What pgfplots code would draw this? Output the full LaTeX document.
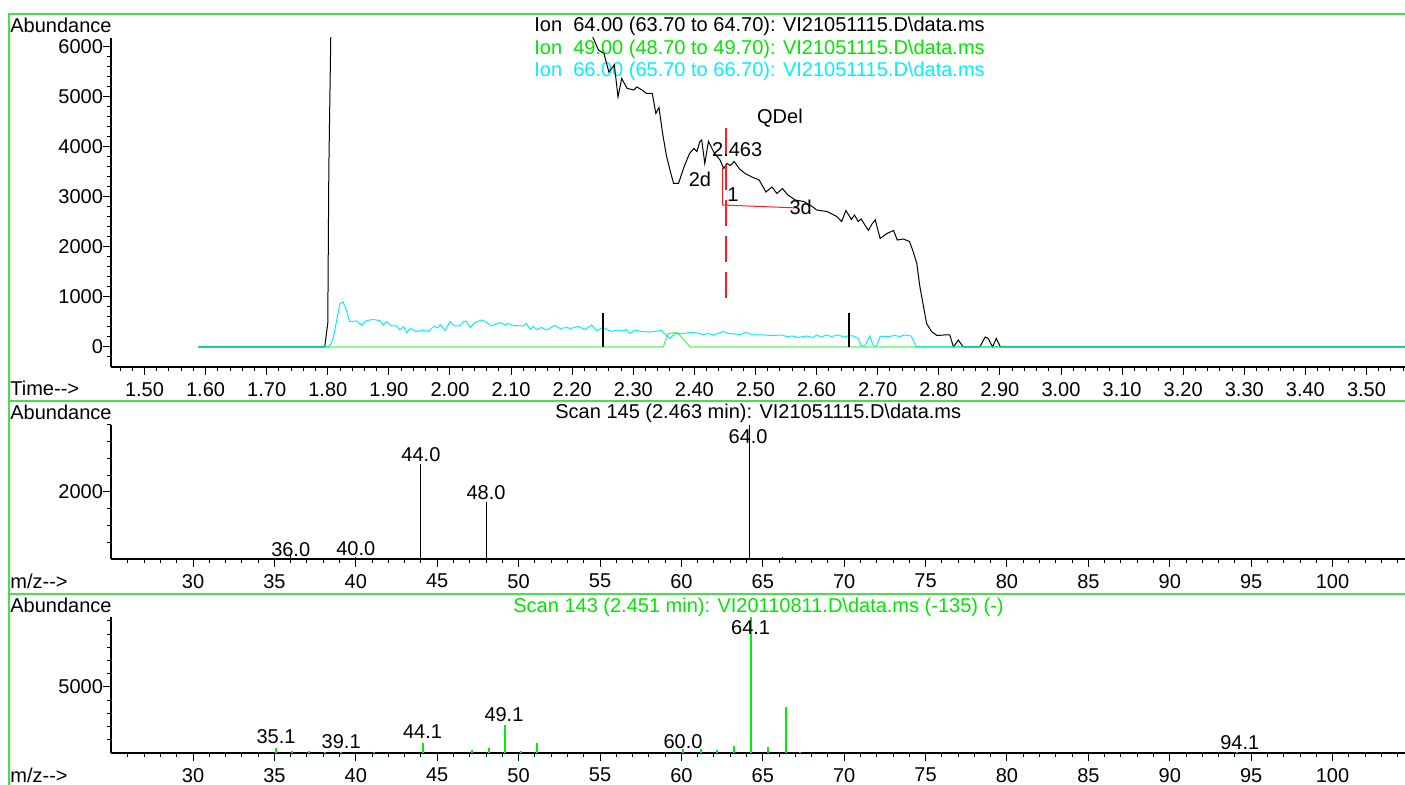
\documentclass[border=0pt]{standalone}
\usepackage{fontspec}
\setmainfont{Liberation Sans}
\usepackage{pgfplots}
\pgfplotsset{compat=1.18}
\definecolor{mygreen}{RGB}{0,230,0}
\definecolor{peakgreen}{RGB}{0,240,0}
\definecolor{mycyan}{RGB}{0,240,255}
\definecolor{framegreen}{RGB}{70,225,70}
\definecolor{qred}{RGB}{255,30,30}
\pgfplotsset{chrom/.style={
  scale only axis, anchor=south west,
  axis x line*=bottom, axis y line*=left,
  tick align=outside, major tick length=4pt, minor tick length=2pt,
  tick style={black, line width=0.5pt},
  axis line style={black, line width=0.6pt},
  /pgf/number format/assume math mode=true,
  /pgf/number format/1000 sep={},
  scaled y ticks=false, scaled x ticks=false,
  every tick label/.append style={font=\fontsize{10}{12}\selectfont},
  yticklabel style={xshift=3.5pt},
  width=647pt,
}}
\begin{document}
\begin{tikzpicture}
\useasboundingbox (0,0) rectangle (702.5pt,-392.5pt);
\draw[framegreen, line width=0.75pt] (4.5pt,-392.5pt) -- (4.5pt,-7pt) -- (702.5pt,-7pt);
\draw[framegreen, line width=0.75pt] (4.5pt,-200.5pt) -- (702.5pt,-200.5pt);
\draw[framegreen, line width=0.75pt] (4.5pt,-297pt) -- (702.5pt,-297pt);
% texts outside axes
\node[anchor=west, inner sep=0pt] at (5pt,-12.5pt) {Abundance};
\node[anchor=west, inner sep=0pt] at (267pt,-13pt) {Ion\ \ 64.00 (63.70 to 64.70): VI21051115.D\textbackslash data.ms};
\node[anchor=west, inner sep=0pt, text=mygreen] at (267pt,-24.5pt) {Ion\ \ 49.00 (48.70 to 49.70): VI21051115.D\textbackslash data.ms};
\node[anchor=west, inner sep=0pt, text=mycyan] at (267pt,-35.5pt) {Ion\ \ 66.00 (65.70 to 66.70): VI21051115.D\textbackslash data.ms};
\node[anchor=west, inner sep=0pt] at (5pt,-194pt) {Time-{}->};
\node[anchor=west, inner sep=0pt] at (5pt,-206pt) {Abundance};
\node[anchor=west, inner sep=0pt] at (277.5pt,-206.5pt) {Scan 145 (2.463 min): VI21051115.D\textbackslash data.ms};
\node[anchor=west, inner sep=0pt] at (5pt,-290.5pt) {m/z-{}->};
\node[anchor=west, inner sep=0pt] at (5pt,-302.5pt) {Abundance};
\node[anchor=west, inner sep=0pt, text=mygreen] at (256.5pt,-303.5pt) {Scan 143 (2.451 min): VI20110811.D\textbackslash data.ms (-135) (-)};
\node[anchor=west, inner sep=0pt] at (5pt,-387.5pt) {m/z-{}->};

% ---------- top: chromatogram ----------
\begin{axis}[chrom, at={(55.5pt,-183.5pt)}, height=164.5pt,
  xmin=1.4452, xmax=3.563, ymin=-400, ymax=6180,
  xtick={1.5,1.6,1.7,1.8,1.9,2.0,2.1,2.2,2.3,2.4,2.5,2.6,2.7,2.8,2.9,3.0,3.1,3.2,3.3,3.4,3.5},
  minor xtick={1.46,1.48,...,3.57},
  xticklabel={\pgfmathprintnumber[fixed,fixed zerofill,precision=2]{\tick}},
  ytick={0,1000,2000,3000,4000,5000,6000},
  minor ytick={-200,0,...,6100}]
\addplot[black, line width=0.5pt] coordinates {
(1.588,0) (1.795,0) (1.800,480) (1.8017,3540) (1.805,6300) (1.808,9000) (2.225,9000)
(2.234,6190) (2.243,5940) (2.252,5870) (2.260,5500) (2.269,5640) (2.275,5000) (2.281,5370)
(2.290,5170) (2.301,5140) (2.306,5200) (2.313,5150) (2.322,5070) (2.331,5070) (2.337,4670)
(2.342,4790) (2.348,4270) (2.354,3840) (2.360,3540) (2.366,3270) (2.374,3270) (2.383,3600)
(2.392,3870) (2.399,3970) (2.404,3910) (2.409,4110) (2.412,4140) (2.417,3670) (2.423,4110)
(2.433,3870) (2.442,3740) (2.448,3570) (2.453,3670) (2.459,3630) (2.465,3710) (2.474,3560)
(2.483,3470) (2.494,3400) (2.506,3340) (2.517,3100) (2.527,3200) (2.535,3070) (2.544,3170)
(2.553,3040) (2.565,2940) (2.579,2910) (2.594,2800) (2.600,2740) (2.617,2710) (2.633,2610)
(2.641,2510) (2.648,2730) (2.657,2550) (2.662,2640) (2.668,2510) (2.673,2560) (2.679,2440)
(2.685,2330) (2.690,2450) (2.696,2540) (2.704,2170) (2.715,2270) (2.726,2330) (2.732,2140)
(2.742,2160) (2.752,2110) (2.758,1910) (2.764,1670) (2.769,1210) (2.775,810) (2.780,470)
(2.788,310) (2.797,230) (2.808,240) (2.818,240) (2.824,0) (2.832,140) (2.840,0)
(2.867,0) (2.876,200) (2.881,170) (2.888,0) (2.894,170) (2.901,0) (3.600,0)};
\addplot[mycyan, line width=0.5pt] coordinates {
(1.588,0) (1.800,0) (1.805,60) (1.809,180) (1.815,560) (1.820,870) (1.825,900) (1.830,750)
(1.836,510) (1.847,520) (1.855,440) (1.864,530) (1.874,550) (1.885,530) (1.891,440) (1.896,510)
(1.904,420) (1.913,420) (1.918,340) (1.924,410) (1.929,290) (1.935,370) (1.945,310) (1.956,340)
(1.965,310) (1.973,410) (1.981,390) (1.984,450) (1.992,330) (2.000,510) (2.008,420) (2.016,420)
(2.022,510) (2.027,510) (2.033,390) (2.041,490) (2.052,540) (2.060,490) (2.068,420) (2.082,490)
(2.090,440) (2.095,470) (2.104,430) (2.120,420) (2.125,470) (2.131,350) (2.136,410) (2.142,350)
(2.150,390) (2.158,340) (2.172,430) (2.180,370) (2.191,390) (2.197,370) (2.210,410) (2.221,350)
(2.232,440) (2.240,330) (2.251,390) (2.264,310) (2.275,340) (2.284,320) (2.288,350) (2.295,270)
(2.303,340) (2.314,310) (2.327,300) (2.346,330) (2.351,270) (2.360,170) (2.368,270) (2.382,270)
(2.393,290) (2.405,280) (2.415,250) (2.423,270) (2.431,240) (2.440,280) (2.447,310) (2.456,270)
(2.466,260) (2.475,250) (2.485,290) (2.496,240) (2.513,240) (2.529,230) (2.543,240) (2.551,210)
(2.562,220) (2.570,190) (2.583,220) (2.594,190) (2.600,240) (2.608,200) (2.616,240) (2.624,210)
(2.636,240) (2.644,200) (2.652,220) (2.660,220) (2.668,170) (2.673,20) (2.679,20) (2.687,220)
(2.693,20) (2.698,20) (2.704,210) (2.718,210) (2.728,230) (2.736,210) (2.744,240) (2.755,220)
(2.763,0) (3.600,0)};
\addplot[mygreen, line width=0.6pt, opacity=0.6] coordinates {
(1.588,0) (2.349,0) (2.357,270) (2.371,290) (2.376,240) (2.393,0) (3.600,0)};
\addplot[black, line width=1pt] coordinates {(2.251,0) (2.251,680)};
\addplot[black, line width=1pt] coordinates {(2.653,0) (2.653,680)};
\addplot[qred, line width=1pt, dash pattern=on 13pt off 5pt] coordinates {(2.451,4380) (2.451,800)};
\addplot[qred, line width=0.5pt] coordinates {(2.446,3580) (2.446,2840) (2.570,2780)};
\node at (axis cs:2.540,4580) {QDel};
\node at (axis cs:2.470,3940) {2.463};
\node at (axis cs:2.409,3360) {2d};
\node at (axis cs:2.463,3040) {1};
\node at (axis cs:2.574,2800) {3d};
\end{axis}

% ---------- middle: scan 145 ----------
\begin{axis}[chrom, at={(55.5pt,-279.5pt)}, height=67pt,
  xmin=24.96, xmax=104.45, ymin=0, ymax=4000,
  xtick={30,35,...,100}, minor xtick={26,27,...,104},
  ytick={2000}, minor ytick={500,1000,...,4000}]
\addplot[ycomb, black, line width=0.55pt] coordinates {
(36.0,130) (40.0,60) (43.2,40) (44.0,2840) (48.05,1700) (64.2,4000) (65.2,20) (66.2,60)};
\node at (axis cs:36.0,269) {36.0};
\node at (axis cs:40.0,299) {40.0};
\node at (axis cs:44.0,3104) {44.0};
\node at (axis cs:48.0,1970) {48.0};
\node at (axis cs:64.1,3642) {64.0};
\end{axis}

% ---------- bottom: scan 143 ----------
\begin{axis}[chrom, at={(55.5pt,-376.5pt)}, height=68pt,
  xmin=24.96, xmax=104.45, ymin=0, ymax=10300,
  xtick={30,35,...,100}, minor xtick={26,27,...,104},
  ytick={5000}, minor ytick={1000,2000,...,10000}]
\addplot[ycomb, draw=peakgreen, line width=1pt] coordinates {
(35.1,380) (36.1,150) (37.1,150) (38.1,80) (39.1,100) (41.1,100) (44.15,780) (47.15,250)
(48.15,380) (49.15,2120) (50.15,150) (51.15,730) (60.1,300) (61.2,300) (62.2,230) (63.2,550)
(64.3,10300) (65.3,450) (66.4,3480) (67.3,100) (94.1,40)};
\node at (axis cs:35.1,1235) {35.1};
\node at (axis cs:39.1,856) {39.1};
\node at (axis cs:44.1,1614) {44.1};
\node at (axis cs:49.1,2879) {49.1};
\node at (axis cs:60.1,856) {60.0};
\node at (axis cs:64.25,9470) {64.1};
\node at (axis cs:94.3,758) {94.1};
\end{axis}
\end{tikzpicture}
\end{document}
